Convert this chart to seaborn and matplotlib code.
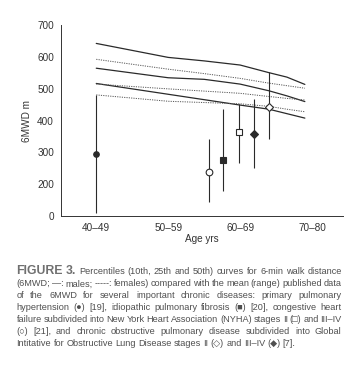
import matplotlib
matplotlib.use("Agg")
import matplotlib.pyplot as plt
import numpy as np
import pandas as pd
import seaborn as sns

# percentile curves (6MWD, m) by age
curve_age = [45, 55, 60, 65, 69, 71.5, 74]
male_50 = [643, 599, 588, 575, 551, 537, 514]
male_25 = [565, 535, 530, 515, 494, 478, 460]
male_10 = [517, 483, 466, 449, 436, 422, 408]
female_50 = [593, 562, 548, 533, 518, 510, 502]
female_25 = [515, 500, 493, 486, 476, 470, 465]
female_10 = [481, 461, 457, 453, 445, 436, 428]

# published disease data: mean (range)
disease = ["PPH", "NYHA III-IV", "IPF", "NYHA II", "GOLD III-IV", "GOLD II"]
disease_age = [45, 60.65, 62.65, 64.8, 66.9, 69.0]
disease_mean = [295, 239, 276, 364, 357, 444]
disease_low = [110, 145, 180, 268, 250, 341]
disease_high = [481, 341, 436, 452, 467, 554]

xtick_vals = [45, 55, 65, 75]
xtick_labels = ["40–49", "50–59", "60–69", "70–80"]
ytick_vals = [100, 200, 300, 400, 500, 600, 700]
ytick_labels = ["0", "200", "300", "400", "500", "600", "700"]

caption_lines = [
    "Percentiles (10th, 25th and 50th) curves for 6-min walk distance",
    "(6MWD; —: males; -----: females) compared with the mean (range) published data",
    "of the 6MWD for several important chronic diseases: primary pulmonary",
    "hypertension (●) [19], idiopathic pulmonary fibrosis (■) [20], congestive heart",
    "failure subdivided into New York Heart Association (NYHA) stages II (□) and III–IV",
    "(○) [21], and chronic obstructive pulmonary disease subdivided into Global",
    "Intitative for Obstructive Lung Disease stages II (◇) and III–IV (◆) [7].",
]

sns.set_style("white")
plt.rcParams["font.family"] = ["Liberation Sans", "DejaVu Sans"]

W, H = 363, 374
fig = plt.figure(figsize=(W / 100, H / 100), dpi=100)
ax = fig.add_axes([61 / W, 1 - 216 / H, (343 - 61) / W, (216 - 25.3) / H])

ink = "#2a2a2a"
curves = pd.DataFrame({
    "age": curve_age * 6,
    "m": male_50 + male_25 + male_10 + female_50 + female_25 + female_10,
    "curve": sum([[c] * len(curve_age) for c in ["m50", "m25", "m10", "f50", "f25", "f10"]], []),
})
for name, grp in curves.groupby("curve", sort=False):
    if name.startswith("m"):
        sns.lineplot(data=grp, x="age", y="m", ax=ax, color=ink, lw=0.9)
    else:
        sns.lineplot(data=grp, x="age", y="m", ax=ax, color="#555555", lw=0.7,
                     linestyle=(0, (1.2, 1.2)))

ax.vlines(disease_age, disease_low, disease_high, color=ink, lw=0.8)
styles = {
    "PPH": ("o", ink, 4.0),
    "IPF": ("s", ink, 4.0),
    "NYHA II": ("s", "white", 4.6),
    "NYHA III-IV": ("o", "white", 4.8),
    "GOLD II": ("D", "white", 4.4),
    "GOLD III-IV": ("D", ink, 3.8),
}
for name, xa, ym in zip(disease, disease_age, disease_mean):
    mk, fc, ms = styles[name]
    ax.plot([xa], [ym], marker=mk, mfc=fc, mec=ink, mew=0.8, ms=ms, zorder=5)

ax.set_xlim(40.1, 79.3)
ax.set_ylim(100, 700)
ax.set_xticks(xtick_vals)
ax.set_xticklabels(xtick_labels)
ax.set_yticks(ytick_vals)
ax.set_yticklabels(ytick_labels)
ax.tick_params(axis="both", labelsize=7.2, colors="#333333", length=3, width=0.7, pad=2)
for s in ["top", "right"]:
    ax.spines[s].set_visible(False)
for s in ["left", "bottom"]:
    ax.spines[s].set_color("#333333")
    ax.spines[s].set_linewidth(0.7)
ax.set_xlabel("Age yrs", fontsize=7.2, color="#333333", labelpad=1)
ax.set_ylabel("6MWD m", fontsize=7.2, color="#333333", labelpad=4)

# justified caption
renderer = fig.canvas.get_renderer()
x0, x1 = 16.5, 341.7
base0, step = 274.5, 11.85
cap_color = "#4f4f4f"
for i, line in enumerate(caption_lines):
    yb = 1 - (base0 + i * step) / H
    items = []
    if i == 0:
        for w in ["FIGURE", "3."]:
            items.append(fig.text(0, yb, w, fontsize=8.8, fontweight="bold", color="#707070",
                                  va="baseline"))
    for w in line.split(" "):
        items.append(fig.text(0, yb, w, fontsize=6.6, color=cap_color, va="baseline",
                              family=["Liberation Sans", "DejaVu Sans"]))
    widths = [t.get_window_extent(renderer).width for t in items]
    if i < len(caption_lines) - 1:
        gap = max((x1 - x0 - sum(widths)) / (len(items) - 1), 1.2)
    else:
        gap = 2.3
    x = x0
    for t, w in zip(items, widths):
        t.set_x(x / W)
        x += w + gap

fig.savefig("out.png", dpi=100, facecolor="white")
